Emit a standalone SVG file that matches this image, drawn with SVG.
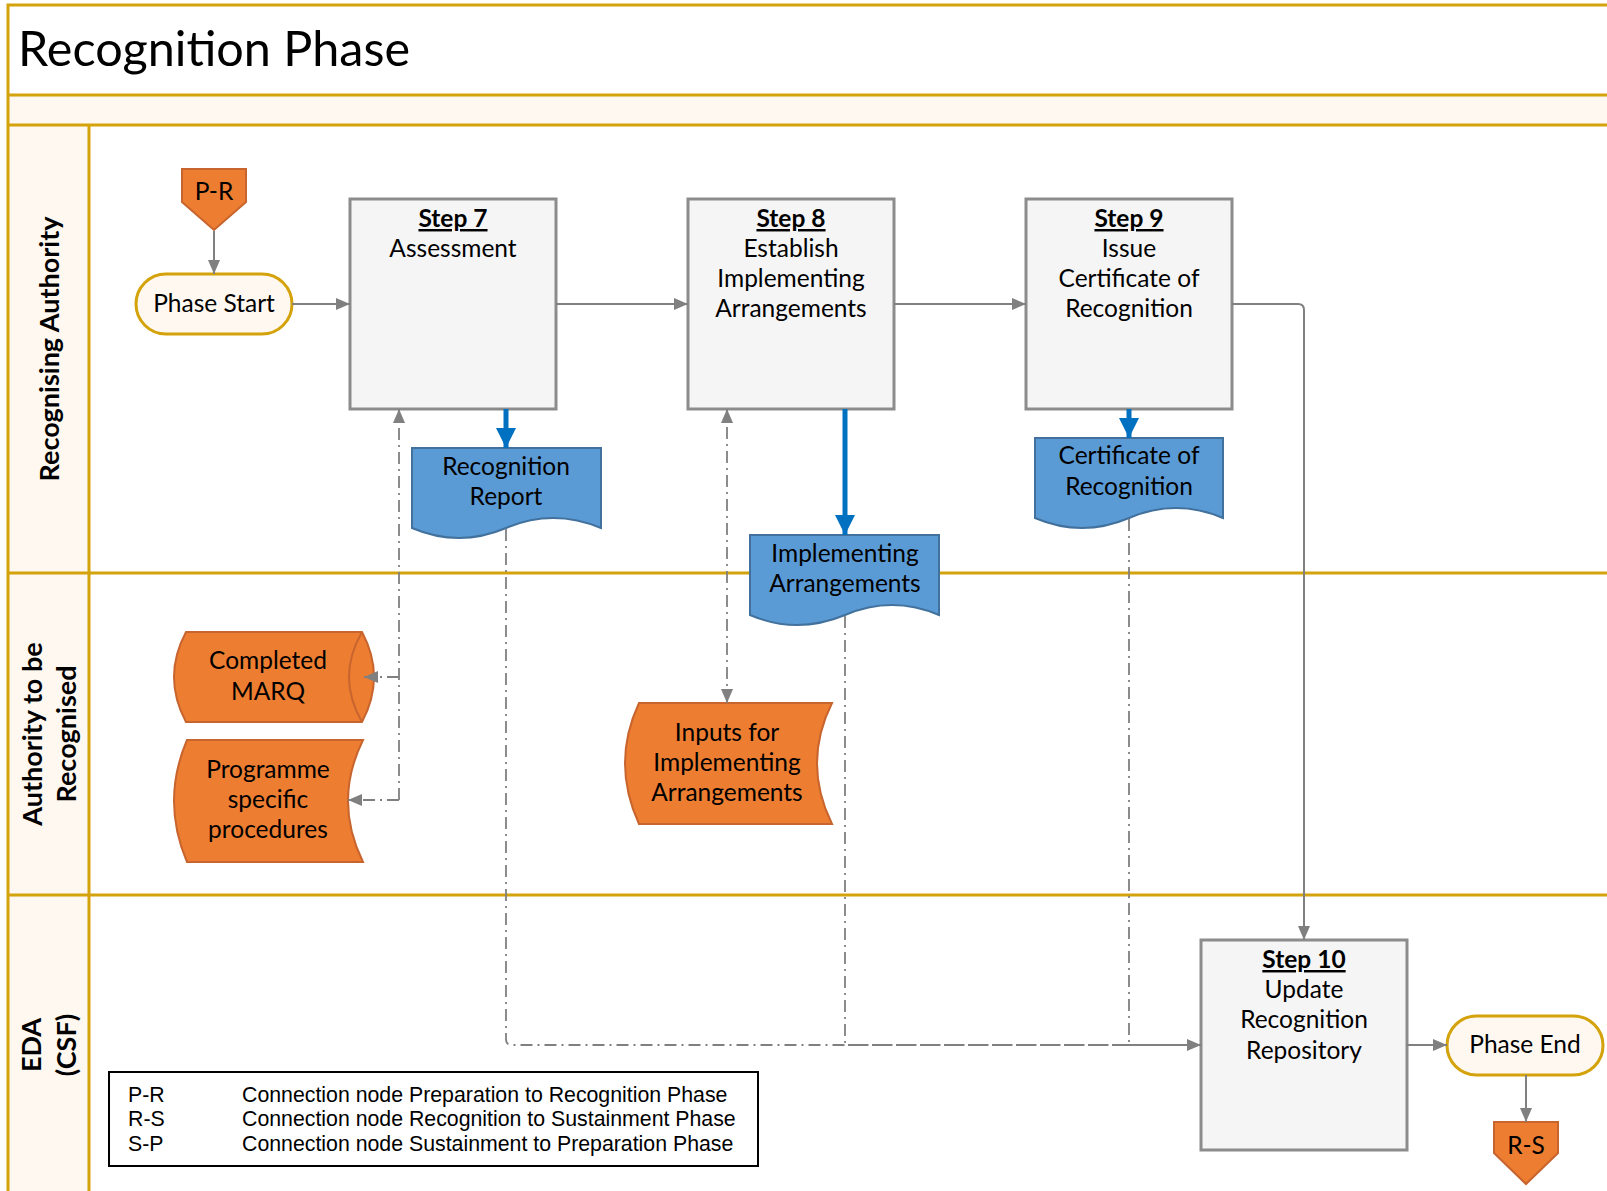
<svg xmlns="http://www.w3.org/2000/svg" width="1607" height="1191" viewBox="0 0 1607 1191">
<style>
.lane{stroke:#D4A20A;stroke-width:3;fill:none}
.hdr{font-family:Lato,"Liberation Sans",sans-serif;font-weight:bold;font-size:27px;fill:#000}
.t{font-family:Lato,"Liberation Sans",sans-serif;font-size:24.5px;fill:#000;text-anchor:middle}
.tb{font-weight:bold;text-decoration:underline}
.step{fill:#F5F5F5;stroke:#8C8C8C;stroke-width:3}
.pill{fill:#FEF8F0;stroke:#D4A20A;stroke-width:3}
.doc{fill:#5B9BD5;stroke:#41719C;stroke-width:2}
.org{fill:#ED7D31;stroke:#C8642D;stroke-width:2}
.c{fill:none;stroke:#808080;stroke-width:2}
.dd{fill:none;stroke:#808080;stroke-width:1.8;stroke-dasharray:12 5 2 5}
.bl{fill:none;stroke:#0070C0;stroke-width:5}
.leg{font-family:"Liberation Sans",Arial,sans-serif;font-size:21.3px;fill:#000}
</style>
<defs>
<marker id="ag" markerUnits="userSpaceOnUse" markerWidth="14" markerHeight="12" refX="14" refY="6" orient="auto-start-reverse" viewBox="0 0 14 12"><path d="M0,0 L14,6 L0,12 z" fill="#808080"/></marker>
<marker id="ab" markerUnits="userSpaceOnUse" markerWidth="20" markerHeight="20" refX="20" refY="10" orient="auto" viewBox="0 0 20 20"><path d="M0,0 L20,10 L0,20 z" fill="#0070C0"/></marker>
</defs>
<rect x="0" y="0" width="1607" height="1191" fill="#fff"/>
<g id="pool">
<rect x="8" y="95" width="1605" height="30" fill="#FEF8F0"/>
<rect x="8" y="125" width="81" height="1070" fill="#FEF8F0"/>
<path class="lane" d="M1610,5 H8 V1195 M8,95 H1610 M8,125 H1610 M89,125 V1195 M8,573 H1610 M8,895 H1610"/>
<text x="18" y="66" font-family="Lato,'Liberation Sans',sans-serif" font-size="48.5" fill="#000">Recognition Phase</text>
<text class="hdr" text-anchor="middle" transform="translate(59,349) rotate(-90)">Recognising Authority</text>
<text class="hdr" text-anchor="middle" transform="translate(42,734) rotate(-90)">Authority to be</text>
<text class="hdr" text-anchor="middle" transform="translate(76,734) rotate(-90)">Recognised</text>
<text class="hdr" text-anchor="middle" transform="translate(41,1045) rotate(-90)">EDA</text>
<text class="hdr" text-anchor="middle" transform="translate(76,1045) rotate(-90)">(CSF)</text>
</g>
<g id="pr">
<path class="org" d="M182,169 H246 V202 L214,230 L182,202 Z"/>
<text class="t" x="214" y="200" font-size="21.5">P-R</text>
</g>
<g id="phase-start">
<rect class="pill" x="136" y="274" width="156" height="60" rx="30"/>
<text class="t" x="214" y="312">Phase Start</text>
</g>
<g id="step7">
<rect class="step" x="350" y="199" width="206" height="210"/>
<text class="t" x="453" y="227"><tspan class="tb">Step 7</tspan></text>
<text class="t" x="453" y="257">Assessment</text>
</g>
<g id="step8">
<rect class="step" x="688" y="199" width="206" height="210"/>
<text class="t" x="791" y="227"><tspan class="tb">Step 8</tspan></text>
<text class="t" x="791" y="257">Establish</text>
<text class="t" x="791" y="287">Implementing</text>
<text class="t" x="791" y="317">Arrangements</text>
</g>
<g id="step9">
<rect class="step" x="1026" y="199" width="206" height="210"/>
<text class="t" x="1129" y="227"><tspan class="tb">Step 9</tspan></text>
<text class="t" x="1129" y="257">Issue</text>
<text class="t" x="1129" y="287">Certificate of</text>
<text class="t" x="1129" y="317">Recognition</text>
</g>
<g id="step10">
<rect class="step" x="1201" y="940" width="206" height="210"/>
<text class="t" x="1304" y="968"><tspan class="tb">Step 10</tspan></text>
<text class="t" x="1304" y="998">Update</text>
<text class="t" x="1304" y="1028">Recognition</text>
<text class="t" x="1304" y="1059">Repository</text>
</g>
<g id="phase-end">
<rect class="pill" x="1447" y="1016" width="156" height="59" rx="29.5"/>
<text class="t" x="1525" y="1053">Phase End</text>
</g>
<g id="rs">
<path class="org" d="M1494,1122 H1558 V1153 L1526,1184 L1494,1153 Z"/>
<text class="t" x="1526" y="1154" font-size="21.5">R-S</text>
</g>
<g id="recognition-report">
<path class="doc" d="M412,448 H601 V528 Q553,508 506,528 Q459,548 412,528 Z"/>
<text class="t" x="506" y="475">Recognition</text>
<text class="t" x="506" y="505">Report</text>
</g>
<g id="implementing-arrangements">
<path class="doc" d="M750,535 H939 V615 Q892,595 845,615 Q797,635 750,615 Z"/>
<text class="t" x="845" y="562">Implementing</text>
<text class="t" x="845" y="592">Arrangements</text>
</g>
<g id="certificate">
<path class="doc" d="M1035,438 H1223 V518 Q1176,498 1129,518 Q1082,538 1035,518 Z"/>
<text class="t" x="1129" y="464">Certificate of</text>
<text class="t" x="1129" y="495">Recognition</text>
</g>
<g id="completed-marq">
<path class="org" d="M186,632 H362 Q386,677 362,722 H186 Q162,677 186,632 Z"/>
<path class="org" d="M362,632 Q336,677 362,722" fill="none"/>
<text class="t" x="268" y="669">Completed</text>
<text class="t" x="268" y="700">MARQ</text>
</g>
<g id="programme-procedures">
<path class="org" d="M187,740 H363 Q333,801 363,862 H187 Q161,801 187,740 Z"/>
<text class="t" x="268" y="778">Programme</text>
<text class="t" x="268" y="808">specific</text>
<text class="t" x="268" y="838">procedures</text>
</g>
<g id="inputs">
<path class="org" d="M639,703 H832 Q802,763 832,824 H639 Q611,763 639,703 Z"/>
<text class="t" x="727" y="741">Inputs for</text>
<text class="t" x="727" y="771">Implementing</text>
<text class="t" x="727" y="801">Arrangements</text>
</g>
<g id="legend">
<rect x="109" y="1072" width="649" height="94" fill="#fff" stroke="#000" stroke-width="2"/>
<text class="leg" x="128" y="1102">P-R</text>
<text class="leg" x="242" y="1102">Connection node Preparation to Recognition Phase</text>
<text class="leg" x="128" y="1126">R-S</text>
<text class="leg" x="242" y="1126">Connection node Recognition to Sustainment Phase</text>
<text class="leg" x="128" y="1151">S-P</text>
<text class="leg" x="242" y="1151">Connection node Sustainment to Preparation Phase</text>
</g>
<g id="connectors">
<path class="c" d="M214,231 V274" marker-end="url(#ag)"/>
<path class="c" d="M292,304 H350" marker-end="url(#ag)"/>
<path class="c" d="M556,304 H688" marker-end="url(#ag)"/>
<path class="c" d="M894,304 H1026" marker-end="url(#ag)"/>
<path class="c" d="M1232,304 H1298 Q1304,304 1304,310 V940" marker-end="url(#ag)"/>
<path class="c" d="M1407,1045 H1447" marker-end="url(#ag)"/>
<path class="c" d="M1526,1075 V1122" marker-end="url(#ag)"/>
<path class="bl" d="M506,409 V448" marker-end="url(#ab)"/>
<path class="bl" d="M845,409 V535" marker-end="url(#ab)"/>
<path class="bl" d="M1129,409 V438" marker-end="url(#ab)"/>
<path class="dd" d="M506,529 V1039 Q506,1045 512,1045 H1201" marker-end="url(#ag)"/>
<path class="dd" d="M845,616 V1045 H1195"/>
<path class="dd" d="M1129,519 V1045 H1195"/>
<path class="dd" d="M399,800 V409" marker-end="url(#ag)"/>
<path class="dd" d="M399,800 H348" marker-end="url(#ag)"/>
<path class="dd" d="M399,677 H364" marker-end="url(#ag)"/>
<path class="dd" d="M727,703 V409" marker-start="url(#ag)" marker-end="url(#ag)"/>
</g>
</svg>
